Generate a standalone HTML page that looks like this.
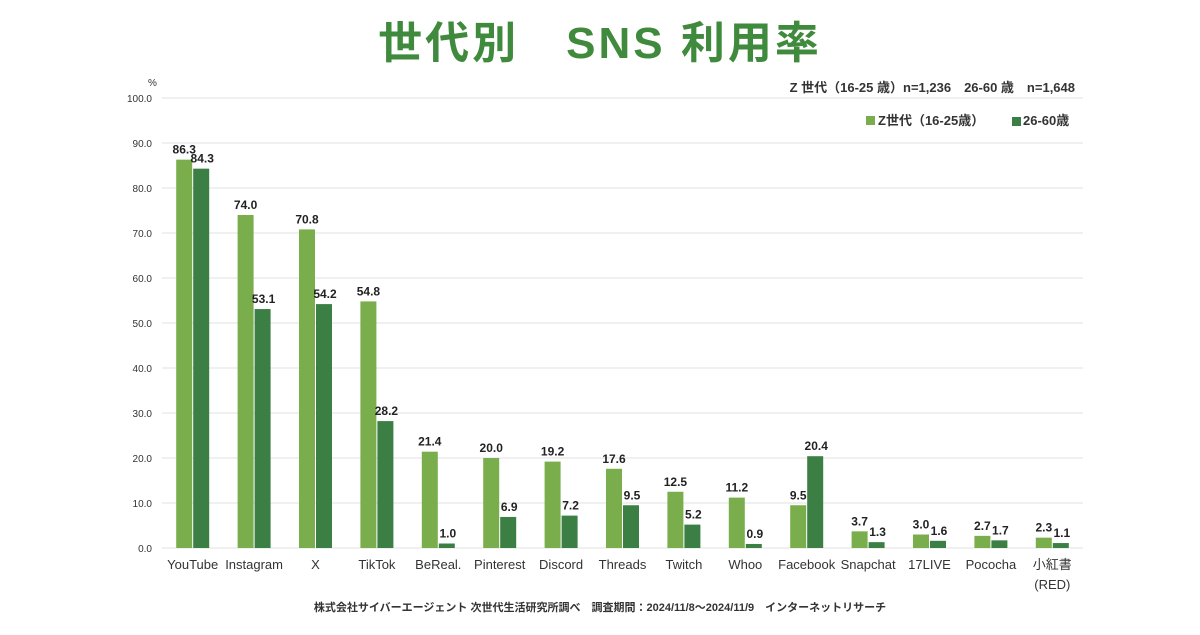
<!DOCTYPE html>
<html><head><meta charset="utf-8"><style>
body{margin:0;background:#fff;}
svg text{font-family:"Liberation Sans","Noto Sans CJK JP",sans-serif;}
</style></head><body>
<svg id="chart" width="1200" height="630" xmlns="http://www.w3.org/2000/svg">
<text x="600" y="58" text-anchor="middle" font-size="44" font-weight="bold" fill="#3f8a3c" letter-spacing="3">世代別　SNS 利用率</text>
<text x="148" y="86" font-size="10" fill="#333">%</text>
<text x="1075" y="92" text-anchor="end" font-size="13" font-weight="bold" fill="#333">Z 世代（16-25 歳）n=1,236　26-60 歳　n=1,648</text>
<rect x="866" y="116" width="9" height="9" fill="#7aae4c"/>
<text x="878" y="125" font-size="13" font-weight="bold" fill="#333">Z世代（16-25歳）</text>
<rect x="1012" y="117" width="9" height="9" fill="#3b7f45"/>
<text x="1023" y="125" font-size="13" font-weight="bold" fill="#333">26-60歳</text>
<g id="grid"></g><g id="bars"></g>
<text x="600" y="611" text-anchor="middle" font-size="11" font-weight="bold" fill="#333">株式会社サイバーエージェント 次世代生活研究所調べ　調査期間：2024/11/8～2024/11/9　インターネットリサーチ</text>
</svg>
<script>
const categories=["YouTube","Instagram","X","TikTok","BeReal.","Pinterest","Discord","Threads","Twitch","Whoo","Facebook","Snapchat","17LIVE","Pococha","小紅書\n(RED)"];
const genZ=[86.3,74.0,70.8,54.8,21.4,20.0,19.2,17.6,12.5,11.2,9.5,3.7,3.0,2.7,2.3];
const adult=[84.3,53.1,54.2,28.2,1.0,6.9,7.2,9.5,5.2,0.9,20.4,1.3,1.6,1.7,1.1];
const ticks=[0,10,20,30,40,50,60,70,80,90,100];
const NS="http://www.w3.org/2000/svg";
const x0=162,x1=1083,y0=548,y100=98;
const y=v=>y0-(v/100)*(y0-y100);
const band=(x1-x0)/categories.length;
const xc=i=>x0+band*(i+0.5);
const grid=document.getElementById('grid'),bars=document.getElementById('bars');
function mk(tag,a,p){const e=document.createElementNS(NS,tag);for(const k in a)e.setAttribute(k,a[k]);p.appendChild(e);return e;}
ticks.forEach(t=>{
 const l=mk('line',{x1:x0,x2:x1,y1:y(t),y2:y(t),stroke:'#e2e2e2','stroke-width':1},grid);
 
 
 const tx=mk('text',{x:152,y:y(t)+4,'text-anchor':'end','font-size':10,fill:'#333'},grid);
 tx.textContent=t.toFixed(1);
 
 
});
const bw=16;
categories.forEach((c,i)=>{
 [[genZ[i],'#7aae4c',-bw-0.5],[adult[i],'#3b7f45',0.5]].forEach(([v,col,off],j)=>{
  const r=mk('rect',{x:xc(i)+off,y:y(v),width:bw,height:y0-y(v),fill:col},bars);
  
  
  const t=mk('text',{x:xc(i)+off+bw/2+(j?1:0),y:y(v)-6,'text-anchor':'middle','font-size':12,'font-weight':'bold',fill:'#222'},bars);
  t.textContent=v.toFixed(1);
  
  
 });
 c.split('\n').forEach((s,k)=>{
  const t=mk('text',{x:xc(i),y:569+k*20,'text-anchor':'middle','font-size':13,fill:'#333'},bars);
  t.textContent=s;
  
  
 });
});
</script>
</body></html>
